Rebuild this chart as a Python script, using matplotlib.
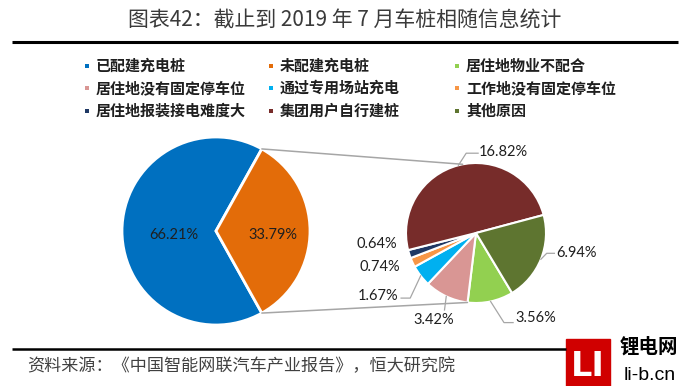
import matplotlib
matplotlib.use("Agg")
import matplotlib.pyplot as plt
from matplotlib.patches import ConnectionPatch, Rectangle
import numpy as np

plt.rcParams['font.family'] = ['Noto Sans CJK SC', 'DejaVu Sans']

# Data
title = "图表42：截止到 2019 年 7 月车桩相随信息统计"
source = "资料来源：《中国智能网联汽车产业报告》，恒大研究院"

main_labels = ["已配建充电桩", "未配建充电桩"]
main_values = [66.21, 33.79]
main_colors = ["#0070C0", "#E36C09"]

sub_labels = ["居住地物业不配合", "居住地没有固定停车位", "通过专用场站充电",
              "工作地没有固定停车位", "居住地报装接电难度大", "集团用户自行建桩", "其他原因"]
sub_values = [3.56, 3.42, 1.67, 0.74, 0.64, 16.82, 6.94]
sub_colors = ["#92D050", "#D99694", "#00B0F0", "#F79646", "#1F3864", "#772C2A", "#5E7530"]

gray = "#A6A6A6"
txt = "#1F1F1F"

fig = plt.figure(figsize=(6.82, 3.86), dpi=100)

# overlay in pixel coordinates for title, legend, footer
ov = fig.add_axes([0, 0, 1, 1])
ov.set_xlim(0, 682)
ov.set_ylim(386, 0)
ov.axis("off")

ov.text(345, 21, title, ha="center", va="center", fontsize=15, color="#3A3A3A")
ov.plot([12, 678], [42, 42], color="black", lw=2.2, solid_capstyle="butt")

# legend (row-major, 3 columns)
leg_labels = main_labels + sub_labels
leg_colors = main_colors + sub_colors
col_mk = [87, 271, 457]
col_tx = [96, 280, 466]
row_y = [66, 88, 111]
for i, (lab, c) in enumerate(zip(leg_labels, leg_colors)):
    r, k = divmod(i, 3)
    ov.scatter(col_mk[k], row_y[r], marker="s", s=12, color=c, linewidths=0)
    ov.text(col_tx[k], row_y[r], lab, ha="left", va="center", fontsize=10.8,
            fontweight="bold", color=txt)

# footer
ov.plot([12, 566], [349, 349], color="black", lw=1.8, solid_capstyle="butt")
ov.text(27, 366, source, ha="left", va="center", fontsize=12.3, color="#404040")
ov.add_patch(Rectangle((566, 339), 44, 50, color="#D00000", clip_on=False))
ov.text(588, 366, "LI", ha="center", va="center", fontsize=24, fontweight="bold",
        color="white", family="DejaVu Sans")
ov.text(649, 347, "锂电网", ha="center", va="center", fontsize=14, fontweight="bold", color="black")
ov.text(650, 376, "li-b.cn", ha="center", va="center", fontsize=14, color="black",
        family="Liberation Sans")

# main pie
ax1 = fig.add_axes([122 / 682, 61 / 386, 188 / 682, 188 / 386])
start1 = 180 * main_values[1] / sum(main_values)
w1, _ = ax1.pie(main_values, colors=main_colors, startangle=start1, counterclock=True,
                wedgeprops=dict(edgecolor="white", linewidth=2))
ax1.set_xlim(-1, 1)
ax1.set_ylim(-1, 1)
for w, v, d in zip(w1, main_values, [0.45, 0.61]):
    a = np.deg2rad((w.theta1 + w.theta2) / 2)
    ax1.text(d * np.cos(a), d * np.sin(a) - 0.04, f"{v:.2f}%", ha="center", va="center",
             fontsize=10.5, family="Lato", color=txt)

# secondary pie
ax2 = fig.add_axes([406 / 682, 83 / 386, 140 / 682, 140 / 386])
w2, _ = ax2.pie(sub_values, colors=sub_colors, startangle=-59, counterclock=False,
                wedgeprops=dict(edgecolor="white", linewidth=1.5))
ax2.set_xlim(-1, 1)
ax2.set_ylim(-1, 1)

# label positions (x, y, ha, va) and leader paths
lab_pos = [(0.56, -1.21, "left", "center"), (-0.60, -1.15, "center", "top"),
           (-1.11, -0.90, "right", "center"), (-1.09, -0.49, "right", "center"),
           (-1.13, -0.16, "right", "center"), (0.04, 1.16, "left", "center"),
           (1.14, -0.29, "left", "center")]
leaders = [[(0.40, -1.28), (0.53, -1.28)], [(-0.45, -1.10)],
           [(-0.94, -0.93), (-1.07, -0.93)], None, None,
           [(-0.14, 1.14), (0.03, 1.14)], [(1.01, -0.29), (1.12, -0.29)]]
for w, v, (x, y, ha, va), ld in zip(w2, sub_values, lab_pos, leaders):
    ax2.text(x, y, f"{v:.2f}%", ha=ha, va=va, fontsize=10.5, family="Lato", color=txt)
    if ld:
        a = np.deg2rad((w.theta1 + w.theta2) / 2)
        pts = [(np.cos(a), np.sin(a))] + ld
        ax2.plot([p[0] for p in pts], [p[1] for p in pts], color=gray, lw=0.9, clip_on=False)

# connectors between pies
orange = w1[1]
for ta, tb in [(orange.theta2, 101), (orange.theta1, -97)]:
    ra, rb = np.deg2rad(ta), np.deg2rad(tb)
    con = ConnectionPatch(xyA=(np.cos(ra), np.sin(ra)), coordsA=ax1.transData,
                          xyB=(np.cos(rb), np.sin(rb)), coordsB=ax2.transData,
                          color=gray, lw=1.1)
    fig.add_artist(con)

fig.savefig("out.png", dpi=100)
